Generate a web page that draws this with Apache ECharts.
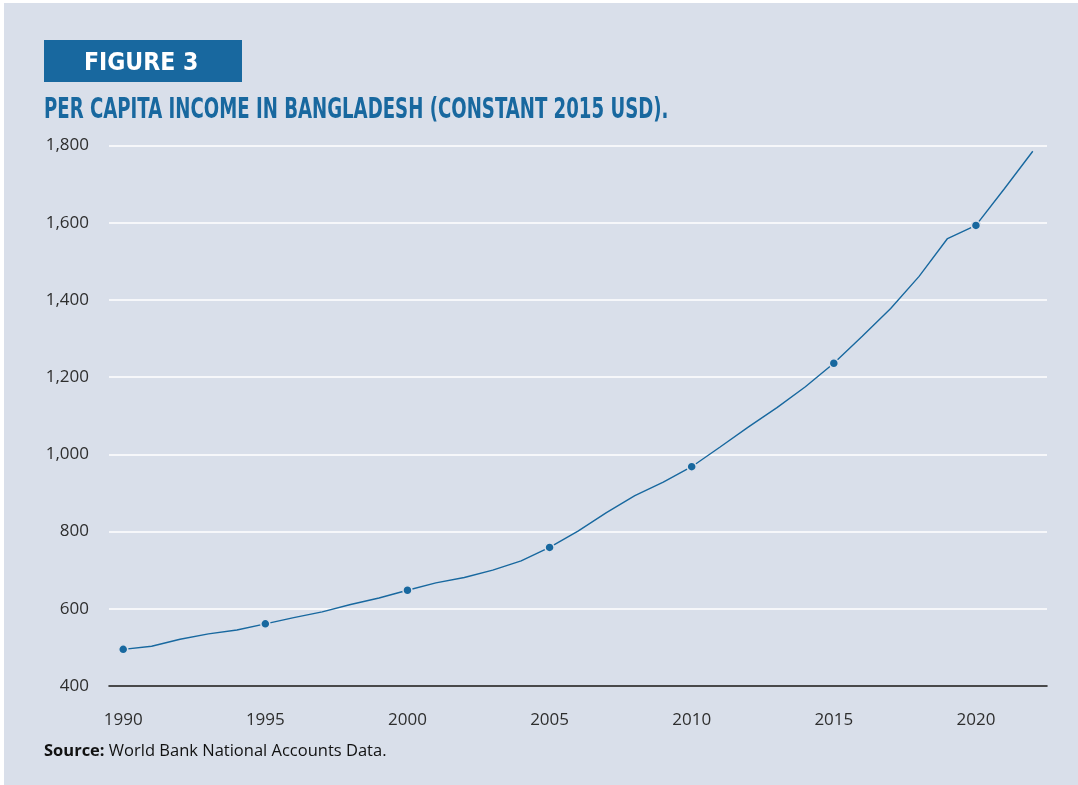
<!DOCTYPE html>
<html>
<head>
<meta charset="utf-8">
<title>Per capita income in Bangladesh</title>
<script src="https://cdn.jsdelivr.net/npm/echarts@6/dist/echarts.min.js"></script>
<style>
  html, body { margin: 0; padding: 0; background: #ffffff; }
  #chart { width: 1078px; height: 785px; }
</style>
</head>
<body>
<div id="chart"></div>
<script>
// GDP per capita, constant 2015 USD
const years = [
  '1990','1991','1992','1993','1994','1995','1996','1997','1998','1999',
  '2000','2001','2002','2003','2004','2005','2006','2007','2008','2009',
  '2010','2011','2012','2013','2014','2015','2016','2017','2018','2019',
  '2020','2021','2022'
];
const incomePerCapita = [
  495, 503, 521, 535, 545, 561, 577, 592, 611, 628,
  648, 667, 681, 700, 724, 759, 801, 849, 893, 928,
  968, 1019, 1071, 1121, 1175, 1236, 1306, 1378, 1461, 1559,
  1593, 1688, 1785
];
// years that carry a marker dot
const markedYears = ['1990', '1995', '2000', '2005', '2010', '2015', '2020'];

const figureLabel = 'FIGURE 3';
const chartTitle = 'PER CAPITA INCOME IN BANGLADESH (CONSTANT 2015 USD).';
const sourceLabel = 'Source:';
const sourceText = 'World Bank National Accounts Data.';

const BLUE = '#18689f';
const PANEL = '#d9dfea';
const AXIS_FONT = '"Open Sans", "Noto Sans", sans-serif';
const TITLE_FONT = '"DejaVu Sans Condensed", "DejaVu Sans", sans-serif';

const chart = echarts.init(document.getElementById('chart'), null, { renderer: 'canvas' });

chart.setOption({
  backgroundColor: '#ffffff',
  animation: false,
  graphic: [
    {
      type: 'rect', z: -10, silent: true,
      shape: { x: 4, y: 3, width: 1074, height: 782 },
      style: { fill: PANEL }
    },
    {
      type: 'rect', silent: true,
      shape: { x: 44, y: 40, width: 198, height: 42 },
      style: { fill: BLUE }
    },
    {
      type: 'text', silent: true, x: 84, y: 63, scaleX: 0.98,
      style: {
        text: figureLabel, fill: '#ffffff',
        font: 'bold 25px ' + TITLE_FONT,
        textVerticalAlign: 'middle'
      }
    },
    {
      // condensed headline type: squeeze the glyphs horizontally
      type: 'text', silent: true, x: 44, y: 111, scaleX: 0.72,
      style: {
        text: chartTitle, fill: BLUE,
        font: 'bold 28px ' + TITLE_FONT,
        textVerticalAlign: 'middle'
      }
    },
    {
      type: 'text', silent: true, x: 44, y: 751,
      style: {
        text: '{b|' + sourceLabel + '}{n| ' + sourceText + '}',
        textVerticalAlign: 'middle',
        rich: {
          b: { fontFamily: AXIS_FONT, fontWeight: 'bold', fontSize: 16.5, fill: '#111' },
          n: { fontFamily: AXIS_FONT, fontSize: 16.5, fill: '#111' }
        }
      }
    }
  ],
  grid: { left: 109, right: 31, top: 145.5, bottom: 99 },
  xAxis: {
    type: 'category',
    data: years,
    boundaryGap: true,
    axisLine: { lineStyle: { color: '#111', width: 1.5 } },
    axisTick: { show: false },
    axisLabel: {
      interval: 4,
      margin: 26,
      color: '#2e2e2e',
      fontFamily: AXIS_FONT,
      fontSize: 17
    },
    splitLine: { show: false }
  },
  yAxis: {
    type: 'value',
    min: 400,
    max: 1800,
    interval: 200,
    axisLine: { show: false },
    axisTick: { show: false },
    axisLabel: {
      margin: 20,
      color: '#2e2e2e',
      fontFamily: AXIS_FONT,
      fontSize: 17,
      formatter: v => v.toLocaleString('en-US')
    },
    splitLine: { lineStyle: { color: '#ffffff', width: 1.5 } }
  },
  series: [{
    type: 'line',
    data: incomePerCapita.map((v, i) => ({
      value: v,
      symbol: markedYears.includes(years[i]) ? 'circle' : 'none'
    })),
    symbolSize: 9,
    showAllSymbol: true,
    lineStyle: { color: BLUE, width: 1.4 },
    itemStyle: { color: BLUE, borderColor: PANEL, borderWidth: 1.5 },
    z: 5
  }]
});
</script>
</body>
</html>
